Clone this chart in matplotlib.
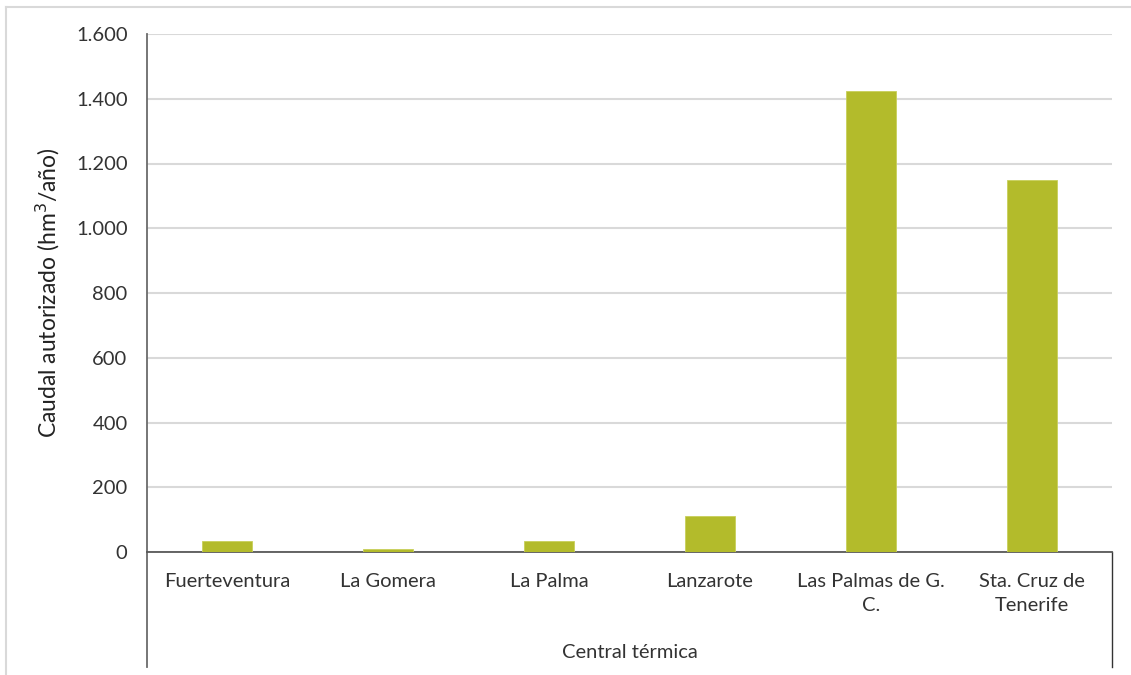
import matplotlib
matplotlib.use("Agg")
import matplotlib.pyplot as plt
from matplotlib.lines import Line2D

categories = ["Fuerteventura", "La Gomera", "La Palma", "Lanzarote",
              "Las Palmas de G.\nC.", "Sta. Cruz de\nTenerife"]
values = [35, 8, 35, 112, 1425, 1148]
yticks = [0, 200, 400, 600, 800, 1000, 1200, 1400, 1600]
ytick_labels = ["0", "200", "400", "600", "800", "1.000", "1.200", "1.400", "1.600"]

W, H = 1131, 675
plt.rcParams['font.family'] = ['Lato', 'DejaVu Sans']
fig = plt.figure(figsize=(W / 100, H / 100), dpi=100)

x0, x1 = 147, 1112
y_top, y_bot = 34, 552
ax = fig.add_axes([x0 / W, 1 - y_bot / H, (x1 - x0) / W, (y_bot - y_top) / H])

xs = list(range(len(categories)))
ax.bar(xs, values, width=0.31, color="#b3bb2b", edgecolor="#c8cf5a", linewidth=0.6, zorder=3)
ax.set_xlim(-0.5, len(categories) - 0.5)
ax.set_ylim(0, 1600)
ax.set_yticks(yticks)
ax.set_yticklabels(ytick_labels, fontsize=14.5, color="#333333")
ax.set_xticks(xs)
ax.set_xticklabels(categories, fontsize=14.5, color="#333333", linespacing=1.5)
ax.tick_params(axis="both", length=0)
ax.tick_params(axis="y", pad=14)
ax.tick_params(axis="x", pad=15)
ax.grid(axis="y", color="#d9d9d9", linewidth=1.5, zorder=0)
ax.set_axisbelow(True)
for s in ["top", "right"]:
    ax.spines[s].set_visible(False)
ax.spines["left"].set_color("#6b6b6b")
ax.spines["left"].set_linewidth(1.3)
ax.spines["bottom"].set_color("#595959")
ax.spines["bottom"].set_linewidth(1.3)

ax.set_ylabel("Caudal autorizado (hm$^3$/año)", fontsize=16.5, color="#222222", labelpad=10)

# Category box lines below the axis
ext = (667 - y_bot) / (y_bot - y_top)
ax.plot([0, 0], [0, -ext], transform=ax.transAxes, color="#6b6b6b", lw=1.3, clip_on=False)
ax.plot([1, 1], [0, -ext], transform=ax.transAxes, color="#333333", lw=1.0, clip_on=False)

fig.text((x0 + x1) / 2 / W, 1 - 652 / H, "Central térmica", ha="center", va="center",
         fontsize=14.5, color="#333333")

# Outer chart border (light gray)
fig.add_artist(Line2D([6 / W, 1130 / W], [1 - 7 / H, 1 - 7 / H], color="#d9d9d9", lw=1.5))
fig.add_artist(Line2D([6 / W, 6 / W], [1 - 7 / H, 0], color="#d9d9d9", lw=1.5))

fig.savefig("out.png", dpi=100)
